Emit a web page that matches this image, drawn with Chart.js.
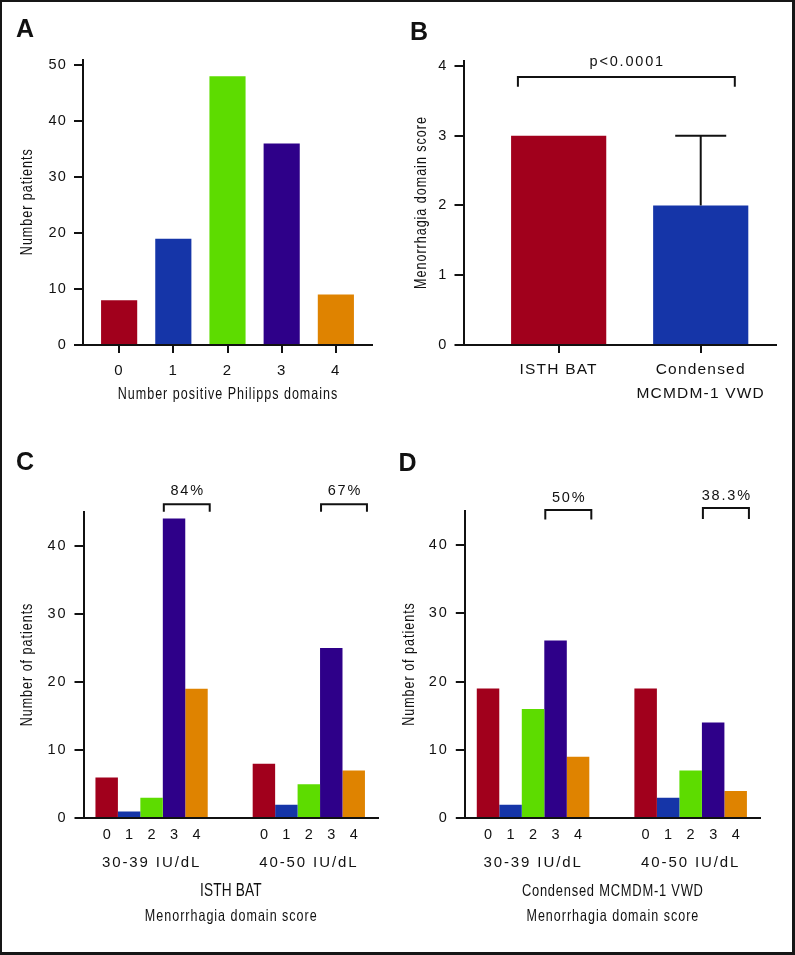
<!DOCTYPE html>
<html>
<head>
<meta charset="utf-8">
<script src="https://cdn.jsdelivr.net/npm/chart.js@4.4.1/dist/chart.umd.min.js"></script>
<style>
  body { margin: 0; background: #fff; }
  #figura { position: relative; width: 795px; height: 955px; background: #fff; overflow: hidden; }
  #figura canvas { position: absolute; }
  #marco { position: absolute; left: 0; top: 0; right: 0; bottom: 0; border-style: solid; border-color: #161616; border-width: 2px 3px 3px 2px; pointer-events: none; }
</style>
</head>
<body>
<div id="figura">
  <canvas id="panelA" width="397" height="420" style="left:0;top:0"></canvas>
  <canvas id="panelB" width="398" height="420" style="left:397px;top:0"></canvas>
  <canvas id="panelC" width="397" height="535" style="left:0;top:420px"></canvas>
  <canvas id="panelD" width="398" height="535" style="left:397px;top:420px"></canvas>
  <div id="marco"></div>
</div>
<script>
// --- datos ---
const domainLabels = ['0', '1', '2', '3', '4'];
const domainCounts = [8, 19, 48, 36, 9];

const toolLabels = [['ISTH BAT'], ['Condensed', 'MCMDM-1 VWD']];
const toolScore = [3, 2];
const toolUpper = [3, 3];
const pValue = 'p<0.0001';

const vwfGroups = ['30-39 IU/dL', '40-50 IU/dL'];
const scoreLabels = ['0', '1', '2', '3', '4'];
const isthCounts = [
  [6, 1, 3, 44, 19],
  [8, 2, 5, 25, 7]
];
const mcmdmCounts = [
  [19, 2, 16, 26, 9],
  [19, 3, 7, 14, 4]
];
const isthPercent = ['84%', '67%'];
const mcmdmPercent = ['50%', '38.3%'];

const ticksA = [0, 10, 20, 30, 40, 50];
const ticksB = [0, 1, 2, 3, 4];
const ticksCD = [0, 10, 20, 30, 40];

const scoreColors = ['#A1001C', '#1535A8', '#5DDC00', '#2E0089', '#DF8300'];

// --- estilo ---
const fuente = "'Liberation Sans', Arial, sans-serif";
const negro = '#111';

function texto(ctx, str, x, y, o) {
  ctx.save();
  ctx.font = (o.bold ? 'bold ' : '') + o.size + 'px ' + fuente;
  ctx.fillStyle = negro;
  const sp = o.spacing || 0;
  ctx.letterSpacing = sp + 'px';
  ctx.textAlign = o.align || 'center';
  ctx.textBaseline = o.baseline || 'middle';
  ctx.translate(x, y);
  if (o.rotate) ctx.rotate(o.rotate);
  ctx.scale(o.sx || 1, 1);
  ctx.fillText(str, (o.align || 'center') === 'center' ? sp / 2 : 0, 0);
  ctx.restore();
}

// títulos de eje en letra estrecha
function titulo(ctx, str, x, y, o) {
  texto(ctx, str, x, y, Object.assign({ size: 16.5, sx: 0.76, spacing: 1.3 }, o));
}

function linea(ctx, puntos) {
  ctx.save();
  ctx.strokeStyle = negro;
  ctx.lineWidth = 2;
  ctx.lineCap = 'butt';
  ctx.lineJoin = 'miter';
  ctx.beginPath();
  puntos.forEach((p, i) => i ? ctx.lineTo(p[0], p[1]) : ctx.moveTo(p[0], p[1]));
  ctx.stroke();
  ctx.restore();
}

function ejeY(max, valores, ancho) {
  return {
    min: 0,
    max: max,
    afterBuildTicks: s => { s.ticks = valores.map(v => ({ value: v })); },
    afterFit: s => { s.width = ancho; },
    grid: { drawOnChartArea: false, drawTicks: true, tickLength: 9, color: negro, lineWidth: 2 },
    border: { display: true, color: negro, width: 2, z: 1 },
    ticks: { color: negro, font: { family: fuente, size: 14.5 }, padding: 7 }
  };
}

function ejeX(min, max, n, alto, etiquetas, extra) {
  return Object.assign({
    type: 'linear', min: min, max: max, offset: false,
    afterBuildTicks: s => { s.ticks = Array.from({ length: n }, (_, i) => ({ value: i })); },
    afterFit: s => { s.height = alto; },
    border: { display: true, color: negro, width: 2, z: 1 }
  }, extra, {
    ticks: Object.assign({ callback: v => etiquetas[v], color: negro, autoSkip: false, maxRotation: 0 }, extra.ticks)
  });
}

function extras(espaciado, plano) {
  // letra del panel, títulos de ejes y anotaciones, dibujados al final
  return {
    id: 'extras',
    beforeDraw(chart) { chart.ctx.letterSpacing = espaciado + 'px'; },
    afterDraw(chart) {
      chart.ctx.letterSpacing = '0px';
      plano(chart, chart.ctx, chart.chartArea);
    }
  };
}

function opcionesBase(padding) {
  return {
    responsive: false,
    animation: false,
    devicePixelRatio: 1,
    layout: { padding: padding },
    plugins: { legend: { display: false }, tooltip: { enabled: false } }
  };
}

const marcas = { display: true, drawOnChartArea: false, drawTicks: true, tickLength: 8, color: negro, lineWidth: 2, offset: false };

// --- Panel A ---
new Chart(document.getElementById('panelA'), {
  type: 'bar',
  data: {
    datasets: [{
      data: domainCounts.map((v, i) => ({ x: i, y: v })),
      backgroundColor: scoreColors,
      barPercentage: 0.667,
      categoryPercentage: 1
    }]
  },
  options: Object.assign(opcionesBase({ left: 0, right: 25, top: 59.5, bottom: 0 }), {
    scales: {
      x: ejeX(-0.667, 4.667, domainLabels.length, 75, domainLabels, {
        grid: marcas,
        ticks: { font: { family: fuente, size: 15 }, padding: 8.5 }
      }),
      y: ejeY(51, ticksA, 83)
    }
  }),
  plugins: [extras(1.2, (chart, ctx, area) => {
    texto(ctx, 'A', 16, 36.7, { size: 25, bold: true, align: 'left', baseline: 'alphabetic' });
    titulo(ctx, 'Number positive Philipps domains', (area.left + area.right) / 2, 394);
    titulo(ctx, 'Number patients', 27, (area.top + area.bottom) / 2, { rotate: -Math.PI / 2 });
  })]
});

// --- Panel B ---
new Chart(document.getElementById('panelB'), {
  type: 'bar',
  data: {
    datasets: [{
      data: toolScore.map((v, i) => ({ x: i, y: v })),
      backgroundColor: [scoreColors[0], scoreColors[1]],
      barPercentage: 0.67,
      categoryPercentage: 1
    }]
  },
  options: Object.assign(opcionesBase({ left: 0, right: 19, top: 61, bottom: 0 }), {
    scales: {
      x: ejeX(-0.67, 1.53, toolLabels.length, 75, toolLabels, {
        grid: marcas,
        ticks: { font: { family: fuente, size: 15.5, lineHeight: 1.55 }, padding: 4.5 }
      }),
      y: ejeY(4.07, ticksB, 66.5)
    }
  }),
  plugins: [extras(1.2, (chart, ctx, area) => {
    const xs = chart.scales.x, ys = chart.scales.y;
    // barra de error superior
    const el = chart.getDatasetMeta(0).data[1];
    const yTop = ys.getPixelForValue(toolUpper[1]);
    linea(ctx, [[el.x, el.y], [el.x, yTop]]);
    linea(ctx, [[el.x - 25.5, yTop], [el.x + 25.5, yTop]]);
    // corchete de significación
    const x1 = xs.getPixelForValue(-0.287), x2 = xs.getPixelForValue(1.24);
    const yb = ys.getPixelForValue(3.84), yd = ys.getPixelForValue(3.70);
    linea(ctx, [[x1, yd], [x1, yb], [x2, yb], [x2, yd]]);
    texto(ctx, pValue, (x1 + x2) / 2, 62, { size: 14.5, spacing: 1.8 });
    texto(ctx, 'B', 13, 39.5, { size: 25, bold: true, align: 'left', baseline: 'alphabetic' });
    titulo(ctx, 'Menorrhagia domain score', 24, (area.top + area.bottom) / 2, { rotate: -Math.PI / 2 });
  })]
});

// --- Panels C y D ---
function panelAgrupado(id, counts, percents, letra, tituloX, cfg) {
  new Chart(document.getElementById(id), {
    type: 'bar',
    data: {
      datasets: scoreLabels.map((lab, s) => ({
        label: lab,
        data: vwfGroups.map((g, gi) => ({ x: gi, y: counts[gi][s] })),
        backgroundColor: scoreColors[s],
        barPercentage: 1,
        categoryPercentage: 0.714
      }))
    },
    options: Object.assign(opcionesBase({ left: 0, right: cfg.right, top: cfg.top, bottom: 0 }), {
      scales: {
        x: ejeX(-0.433, 1.44, vwfGroups.length, 136.7, vwfGroups, {
          grid: { display: false, drawTicks: false, offset: false },
          ticks: { font: { family: fuente, size: 15 }, padding: 35.4 }
        }),
        y: ejeY(45, ticksCD, cfg.left)
      }
    }),
    plugins: [extras(1.9, (chart, ctx, area) => {
      const ys = chart.scales.y;
      // etiquetas de puntuación bajo cada barra
      scoreLabels.forEach((lab, s) => {
        chart.getDatasetMeta(s).data.forEach(el => {
          texto(ctx, lab, el.x, 415, { size: 14.5 });
        });
      });
      // corchetes sobre las puntuaciones 3 y 4
      vwfGroups.forEach((g, gi) => {
        const b3 = chart.getDatasetMeta(3).data[gi];
        const b4 = chart.getDatasetMeta(4).data[gi];
        const x1 = b3.x - b3.width / 2 + 1, x2 = b4.x + b4.width / 2 + 2;
        const yb = ys.getPixelForValue(cfg.bracket[gi][0]);
        const yd = ys.getPixelForValue(cfg.bracket[gi][1]);
        linea(ctx, [[x1, yd], [x1, yb], [x2, yb], [x2, yd]]);
        texto(ctx, percents[gi], (x1 + x2) / 2, yb - cfg.textGap, { size: 14.5, spacing: 1.8 });
      });
      texto(ctx, letra, cfg.letterX, cfg.letterY, { size: 25, bold: true, align: 'left', baseline: 'alphabetic' });
      const cx = (area.left + area.right) / 2;
      titulo(ctx, tituloX, cx, 471, { size: cfg.titleSize, spacing: cfg.titleSpacing });
      titulo(ctx, 'Menorrhagia domain score', cx, 496);
      titulo(ctx, 'Number of patients', cfg.yTitleX, (area.top + area.bottom) / 2, { rotate: -Math.PI / 2 });
    })]
  });
}

panelAgrupado('panelC', isthCounts, isthPercent, 'C', 'ISTH BAT', {
  left: 83.5, right: 19, top: 91.7,
  bracket: [[46.1, 45.0], [46.1, 45.0]], textGap: 13.5,
  letterX: 16, letterY: 50, titleSize: 18, titleSpacing: 0.2, yTitleX: 27.5
});
panelAgrupado('panelD', mcmdmCounts, mcmdmPercent, 'D', 'Condensed MCMDM-1 VWD', {
  left: 67.8, right: 35, top: 90.7,
  bracket: [[45.1, 43.7], [45.4, 43.8]], textGap: 12,
  letterX: 1.5, letterY: 51, titleSize: 17, titleSpacing: 1.0, yTitleX: 12.5
});
</script>
</body>
</html>
